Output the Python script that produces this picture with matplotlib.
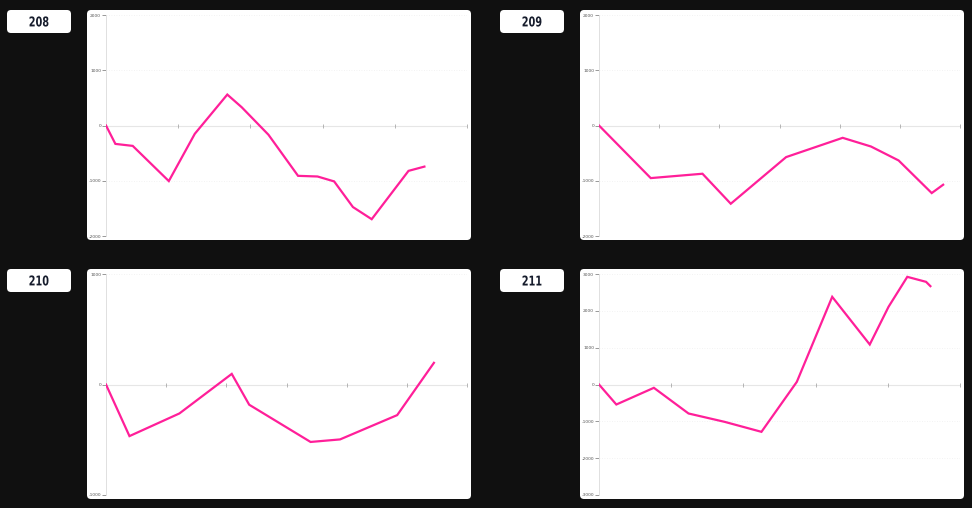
import matplotlib.pyplot as plt
from matplotlib.patches import FancyBboxPatch, PathPatch
from matplotlib.textpath import TextPath
from matplotlib.font_manager import FontProperties
from matplotlib.transforms import Affine2D

plt.rcParams["axes.unicode_minus"] = False

# chart ids shown in the badges
chart_ids = ["208", "209", "210", "211"]

# x positions in tick units, y values
x_208 = [0, 0.13, 0.37, 0.87, 1.23, 1.68, 1.88, 2.25, 2.66, 2.93, 3.16, 3.42, 3.68, 4.19, 4.41]
y_208 = [0, -333, -369, -1006, -150, 560, 330, -167, -911, -923, -1012, -1476, -1696, -821, -744]

x_209 = [0, 0.86, 1.72, 2.19, 3.11, 4.05, 4.52, 4.98, 5.53, 5.72]
y_209 = [0, -952, -873, -1416, -572, -223, -380, -633, -1223, -1072]

x_210 = [0, 0.39, 1.22, 2.09, 2.38, 3.40, 3.89, 4.84, 5.45]
y_210 = [0, -467, -262, 96, -183, -520, -497, -277, 196]

x_211 = [0, 0.24, 0.76, 1.24, 1.74, 2.25, 2.74, 3.23, 3.75, 4.01, 4.27, 4.53, 4.59]
y_211 = [0, -543, -90, -787, -1014, -1285, 72, 2380, 1086, 2109, 2923, 2787, 2670]

x_ticks_n = [5, 6, 6, 5]
y_limits = [2000, 2000, 1000, 3000]

series = [(x_208, y_208), (x_209, y_209), (x_210, y_210), (x_211, y_211)]

W, H = 972, 508
fig = plt.figure(figsize=(W / 100, H / 100), dpi=100)
fig.patch.set_facecolor("#101010")

# pixel layout: (panel left, panel top, badge left) for each chart
layout = [(87, 10, 7), (580, 10, 500), (87, 269, 7), (580, 269, 500)]
panel_w, panel_h = 384, 230

bg = fig.add_axes([0, 0, 1, 1])
bg.set_xlim(0, W)
bg.set_ylim(H, 0)
bg.axis("off")
bg.set_zorder(0)

badge_font = FontProperties(family="DejaVu Sans", weight="bold")


def box(x, y, w, h, r, color):
    bg.add_patch(FancyBboxPatch((x, y), w, h, boxstyle=f"round,pad=0,rounding_size={r}",
                                facecolor=color, edgecolor="none"))


for i, (px, py, bx) in enumerate(layout):
    box(px, py, panel_w, panel_h, 4, "white")
    box(bx, py, 64, 23, 4, "white")
    # narrow bold badge text, squeezed horizontally
    tp = TextPath((0, 0), chart_ids[i], size=13.5, prop=badge_font)
    ext = tp.get_extents()
    tr = (Affine2D().translate(-(ext.x0 + ext.x1) / 2, -(ext.y0 + ext.y1) / 2)
          .scale(0.72, -1).translate(bx + 32, py + 11.5))
    bg.add_patch(PathPatch(tr.transform_path(tp), facecolor="#161c2c", edgecolor="none"))

    ax_left = px + 19
    ax_top = py + 5
    ax = fig.add_axes([ax_left / W, 1 - (ax_top + 221) / H, 361 / W, 221 / H])
    ax.set_zorder(2)
    ax.patch.set_alpha(0)
    xs, ys = series[i]
    lim = y_limits[i]
    n = x_ticks_n[i]
    ax.plot(xs, ys, color="#ff1f99", lw=1.6, solid_joinstyle="miter", zorder=3)
    ax.set_xlim(0, n)
    ax.set_ylim(-lim, lim)
    yt = list(range(-lim, lim + 1, 1000))
    ax.set_yticks(yt)
    ax.set_yticklabels([str(v) for v in yt])
    for v in yt:
        if v == 0:
            ax.axhline(0, color="#e6e6e6", lw=0.8, zorder=1)
        else:
            ax.axhline(v, color="#efefef", lw=0.6, ls=(0, (1, 2)), zorder=1)
    ax.set_xticks(range(1, n + 1))
    ax.set_xticklabels([])
    for s in ["top", "right"]:
        ax.spines[s].set_visible(False)
    ax.spines["left"].set_color("#e0e0e0")
    ax.spines["left"].set_linewidth(0.7)
    ax.spines["bottom"].set_position(("data", 0))
    ax.spines["bottom"].set_visible(False)
    ax.tick_params(axis="y", length=3, width=0.6, color="#888888", labelsize=3.2,
                   labelcolor="#555555", pad=0.5)
    ax.tick_params(axis="x", length=3, width=0.6, color="#aaaaaa", direction="inout")

fig.savefig("out.png", dpi=100, facecolor=fig.get_facecolor())
